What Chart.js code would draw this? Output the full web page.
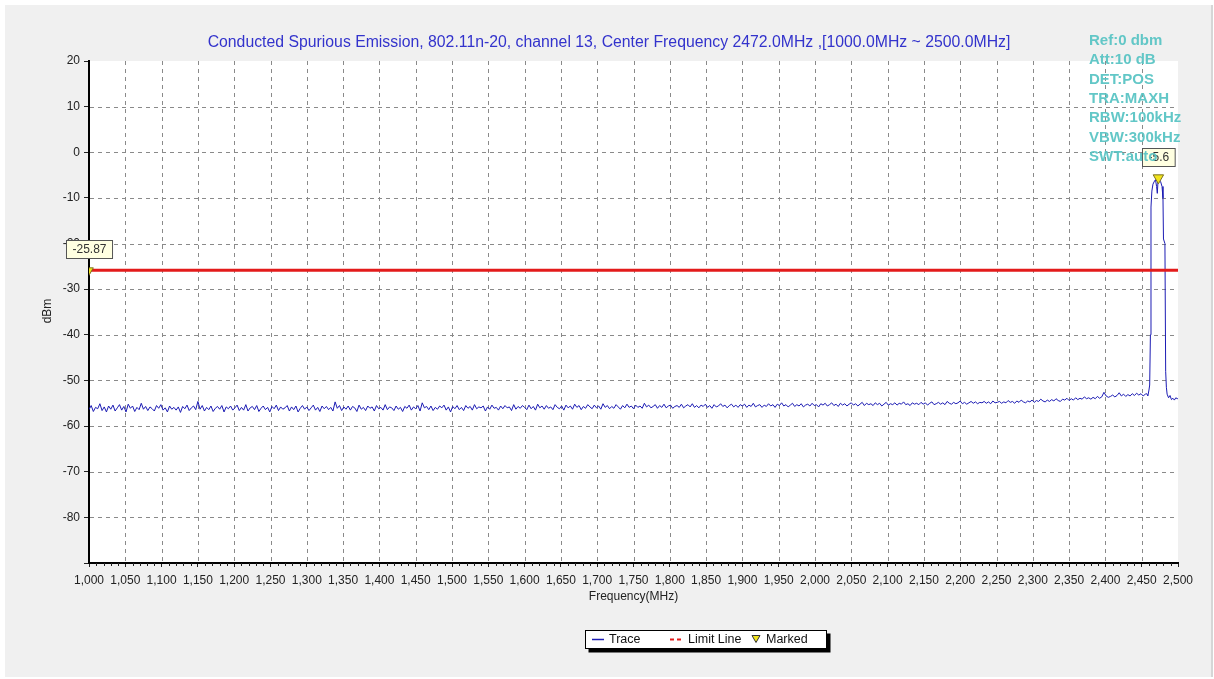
<!DOCTYPE html>
<html>
<head>
<meta charset="utf-8">
<script src="https://cdn.jsdelivr.net/npm/chart.js@4.4.1/dist/chart.umd.min.js"></script>
<style>
  html, body { margin: 0; padding: 0; background: #ffffff; }
  #wrap { width: 1214px; height: 679px; }
</style>
</head>
<body>
<div id="wrap"><canvas id="c" width="1214" height="679"></canvas></div>
<script>
// ---------------- DATA ----------------
const chartTitle = 'Conducted Spurious Emission, 802.11n-20, channel 13, Center Frequency 2472.0MHz ,[1000.0MHz ~ 2500.0MHz]';
const infoLines = ['Ref:0 dbm', 'Att:10 dB', 'DET:POS', 'TRA:MAXH', 'RBW:100kHz', 'VBW:300kHz', 'SWT:auto'];
const legendLabels = ['Trace', 'Limit Line', 'Marked'];

const xMin = 1000, xMax = 2500, xMajorStep = 50, xMinorStep = 10;
const yMin = -90, yMax = 20, yStep = 10;

// Noise floor trace, sampled every 3 MHz from 1000 MHz to 2455 MHz (dBm)
const noiseStartMHz = 1000, noiseStepMHz = 3;
const noiseValues = [
  -56.4,-55.5,-56.8,-55.9,-56.2,-55.1,-56.6,-55.8,-56.9,-55.6,
  -56.3,-55.4,-56.7,-56.0,-55.3,-56.5,-55.7,-56.9,-55.2,-56.1,
  -55.6,-56.8,-55.9,-56.4,-55.0,-56.3,-55.7,-56.6,-55.8,-56.2,
  -56.7,-55.5,-56.1,-55.3,-56.5,-56.0,-56.9,-55.6,-56.3,-55.9,
  -56.5,-55.8,-57.0,-55.7,-56.2,-55.4,-56.6,-56.0,-55.6,-56.4,
  -54.6,-56.3,-55.5,-56.7,-55.9,-56.4,-55.6,-56.8,-56.1,-55.7,
  -56.3,-55.5,-56.9,-55.8,-56.2,-55.6,-56.5,-56.0,-55.4,-56.6,
  -55.9,-56.5,-55.3,-56.7,-56.0,-55.7,-56.4,-55.5,-56.8,-56.1,
  -55.6,-56.4,-55.9,-56.9,-55.7,-56.2,-55.4,-56.6,-55.8,-56.3,
  -56.0,-55.5,-56.7,-55.8,-56.4,-55.6,-56.9,-56.1,-55.5,-56.3,
  -55.8,-56.6,-56.0,-55.4,-56.5,-55.9,-56.8,-55.6,-56.2,-55.7,
  -56.4,-55.9,-56.7,-54.7,-56.1,-55.5,-56.6,-55.8,-56.3,-55.6,
  -56.5,-55.7,-56.0,-56.8,-55.4,-56.3,-55.9,-56.6,-55.6,-56.1,
  -55.8,-56.7,-55.5,-56.2,-55.9,-56.5,-55.3,-56.4,-55.8,-56.0,
  -56.6,-55.6,-56.3,-55.9,-56.8,-55.7,-56.1,-55.4,-56.5,-55.8,
  -56.2,-55.5,-56.7,-54.9,-56.0,-55.7,-56.4,-55.6,-56.6,-55.9,
  -56.3,-55.6,-56.0,-55.4,-56.5,-55.8,-56.9,-55.7,-56.2,-55.5,
  -56.4,-55.9,-56.6,-55.5,-56.1,-55.7,-56.5,-55.3,-56.2,-55.8,
  -56.0,-55.6,-56.7,-55.8,-56.3,-55.4,-56.1,-55.9,-56.5,-55.6,
  -56.2,-55.5,-56.0,-55.8,-56.6,-55.3,-56.3,-55.7,-56.1,-55.5,
  -55.9,-56.4,-55.4,-56.2,-55.7,-56.5,-55.2,-56.0,-55.6,-56.3,
  -55.5,-56.1,-55.8,-56.4,-55.3,-55.9,-56.2,-55.6,-56.5,-55.4,
  -56.0,-55.6,-56.3,-55.2,-55.9,-55.5,-56.4,-55.7,-56.1,-55.3,
  -55.8,-56.2,-55.4,-56.0,-55.6,-56.3,-55.1,-55.9,-55.5,-56.2,
  -55.7,-56.1,-55.3,-55.8,-56.3,-55.5,-56.0,-55.2,-55.9,-55.6,
  -56.2,-55.4,-55.9,-55.6,-56.1,-55.0,-55.8,-55.4,-56.0,-55.7,
  -55.3,-56.1,-55.5,-55.9,-55.2,-56.0,-55.6,-55.4,-56.1,-55.7,
  -55.5,-55.9,-55.2,-56.0,-55.6,-55.3,-55.8,-55.1,-55.9,-55.5,
  -56.0,-55.4,-55.7,-55.2,-55.9,-55.5,-56.1,-55.3,-55.8,-55.6,
  -55.1,-55.7,-55.4,-56.0,-55.5,-55.2,-55.8,-55.4,-55.9,-55.3,
  -55.6,-55.2,-55.9,-55.4,-55.7,-55.0,-55.8,-55.5,-55.3,-55.9,
  -55.4,-55.7,-55.1,-55.6,-55.3,-55.9,-55.2,-55.5,-54.9,-55.6,
  -55.3,-55.8,-55.4,-55.0,-55.7,-55.3,-55.6,-55.1,-55.8,-55.4,
  -55.2,-55.6,-55.0,-55.5,-55.3,-55.8,-55.1,-55.4,-55.0,-55.6,
  -55.3,-54.9,-55.5,-55.2,-55.7,-55.0,-55.4,-55.1,-55.6,-55.2,
  -54.9,-55.4,-55.1,-55.6,-55.2,-54.8,-55.5,-55.0,-55.3,-55.1,
  -55.5,-54.9,-55.3,-55.0,-55.6,-55.2,-54.8,-55.4,-55.1,-55.3,
  -54.9,-55.4,-55.0,-55.2,-54.7,-55.3,-55.1,-55.5,-54.9,-55.2,
  -55.0,-55.3,-54.8,-55.2,-54.9,-55.4,-55.0,-54.7,-55.3,-55.1,
  -54.8,-55.2,-54.9,-55.3,-54.6,-55.0,-55.2,-54.8,-55.1,-54.9,
  -54.5,-55.1,-54.8,-55.2,-54.9,-54.6,-55.0,-54.7,-55.1,-54.8,
  -54.9,-54.6,-55.0,-54.7,-55.1,-54.5,-54.9,-54.8,-54.6,-55.0,
  -54.7,-54.9,-54.4,-54.8,-54.6,-55.0,-54.5,-54.8,-54.3,-54.7,
  -54.9,-54.5,-54.7,-54.3,-54.8,-54.4,-54.6,-54.1,-54.5,-54.7,
  -54.3,-54.6,-54.2,-54.5,-54.0,-54.4,-54.6,-54.1,-54.3,-53.9,
  -54.4,-54.0,-54.3,-53.8,-54.2,-53.9,-54.1,-53.6,-54.0,-53.8,
  -54.1,-53.7,-54.0,-53.5,-53.9,-53.6,-52.6,-53.4,-53.7,-53.5,
  -53.2,-53.6,-53.3,-52.7,-53.4,-53.0,-53.5,-53.1,-53.4,-52.9,
  -53.3,-52.8,-53.2,-52.9,-53.4,-53.0
];

// Carrier region, explicit frequencies (MHz) and levels (dBm)
const peakFreqs  = [2457, 2458.5, 2460, 2461, 2462, 2462.8, 2464, 2465.5, 2467, 2469, 2470.5, 2471.5, 2472.5, 2474, 2476, 2478, 2479.3, 2480, 2482, 2483, 2484, 2485, 2487, 2489, 2491, 2493, 2495, 2497, 2499, 2500];
const peakValues = [-52.9, -53.4, -52.1, -51.0, -40.0, -12.0, -8.5, -7.0, -6.5, -6.0, -7.5, -9.0, -6.2, -5.8, -6.4, -7.5, -10.0, -19.0, -20.0, -48.0, -51.5, -53.0, -53.8, -53.3, -54.2, -53.9, -54.3, -53.8, -54.0, -53.9];

const limitFreqs  = [1000, 2500];
const limitValues = [-25.87, -25.87];

const markerFreqs  = [1000, 2473];
const markerValues = [-25.87, -5.6];
const markerLabels = ['-25.87', '-5.6'];

// ---------------- BUILD ----------------
const traceData = noiseValues.map((v, i) => ({ x: noiseStartMHz + i * noiseStepMHz, y: v }))
  .concat(peakFreqs.map((f, i) => ({ x: f, y: peakValues[i] })));
const limitData = limitFreqs.map((f, i) => ({ x: f, y: limitValues[i] }));
const markerData = markerFreqs.map((f, i) => ({ x: f, y: markerValues[i] }));

const FONT = "'Liberation Sans', Arial, sans-serif";
const TRACE_COLOR = '#1c1cb4';
const LIMIT_COLOR = '#e31b1b';
const MARK_FILL = '#f2e41c';
const GRID_COLOR = '#8a8a8a';

Chart.defaults.font.family = FONT;
Chart.defaults.font.size = 12;
Chart.defaults.color = '#222';

const decor = {
  id: 'decor',
  beforeDraw(chart) {
    const ctx = chart.ctx, a = chart.chartArea;
    ctx.save();
    ctx.fillStyle = '#ffffff';
    ctx.fillRect(0, 0, chart.width, chart.height);
    ctx.fillStyle = '#f0f0f0';
    ctx.fillRect(5, 5, 1207, 672);
    ctx.fillStyle = '#d6d6d6';
    ctx.fillRect(1211, 5, 2, 672);
    ctx.fillStyle = '#ffffff';
    ctx.fillRect(a.left, a.top, a.right - a.left, a.bottom - a.top);
    ctx.restore();
  },
  beforeDatasetsDraw(chart) {
    const ctx = chart.ctx, a = chart.chartArea;
    const xs = chart.scales.x, ys = chart.scales.y;
    ctx.save();
    ctx.strokeStyle = GRID_COLOR;
    ctx.lineWidth = 1;
    ctx.setLineDash([4, 4]);
    for (let f = xMin + xMajorStep; f < xMax; f += xMajorStep) {
      const px = Math.round(xs.getPixelForValue(f)) + 0.5;
      ctx.beginPath(); ctx.moveTo(px, a.top); ctx.lineTo(px, a.bottom - 1); ctx.stroke();
    }
    for (let v = yMin + yStep; v < yMax; v += yStep) {
      const py = Math.round(ys.getPixelForValue(v)) + 0.5;
      ctx.beginPath(); ctx.moveTo(a.left + 1, py); ctx.lineTo(a.right, py); ctx.stroke();
    }
    ctx.setLineDash([]);
    // minor ticks below x axis
    ctx.strokeStyle = '#222';
    for (let f = xMin; f <= xMax; f += xMinorStep) {
      if ((f - xMin) % xMajorStep === 0) continue;
      const px = Math.round(xs.getPixelForValue(f)) + 0.5;
      ctx.beginPath(); ctx.moveTo(px, a.bottom); ctx.lineTo(px, a.bottom + 3); ctx.stroke();
    }
    ctx.restore();
  },
  afterDraw(chart) {
    const ctx = chart.ctx, a = chart.chartArea;
    const xs = chart.scales.x, ys = chart.scales.y;
    ctx.save();
    // marker value labels
    ctx.font = '12px ' + FONT;
    ctx.textBaseline = 'middle';
    ctx.textAlign = 'center';
    markerData.forEach((p, i) => {
      const px = xs.getPixelForValue(p.x), py = ys.getPixelForValue(p.y);
      const w = ctx.measureText(markerLabels[i]).width + 12, h = 18;
      const bx = Math.round(px - w / 2) + 0.5, by = Math.round(py - 12 - h) + 0.5;
      ctx.fillStyle = '#ffffe1';
      ctx.fillRect(bx, by, w, h);
      ctx.strokeStyle = '#555';
      ctx.lineWidth = 1;
      ctx.strokeRect(bx, by, w, h);
      ctx.fillStyle = '#333';
      ctx.fillText(markerLabels[i], bx + w / 2, by + h / 2 + 0.5);
    });
    // title
    ctx.font = '15.8px ' + FONT;
    ctx.fillStyle = '#3333cc';
    ctx.textAlign = 'center';
    ctx.fillText(chartTitle, 609, 43);
    // info lines
    ctx.font = 'bold 15px ' + FONT;
    ctx.fillStyle = 'rgba(90,196,196,0.95)';
    ctx.textAlign = 'left';
    infoLines.forEach((t, i) => ctx.fillText(t, 1089, 41 + i * 19.3));
    // axis titles
    ctx.font = '12px ' + FONT;
    ctx.fillStyle = '#222';
    ctx.textAlign = 'center';
    ctx.fillText('Frequency(MHz)', (a.left + a.right) / 2, 597);
    ctx.save();
    ctx.translate(48, 311);
    ctx.rotate(-Math.PI / 2);
    ctx.fillText('dBm', 0, 0);
    ctx.restore();
    // legend
    const lx = 585.5, ly = 630.5, lw = 241, lh = 18;
    ctx.fillStyle = '#000';
    ctx.fillRect(lx + 3, ly + 3, lw + 1, lh + 1);
    ctx.fillStyle = '#fff';
    ctx.fillRect(lx, ly, lw, lh);
    ctx.strokeStyle = '#000';
    ctx.lineWidth = 1;
    ctx.strokeRect(lx, ly, lw, lh);
    const cy = ly + lh / 2;
    ctx.strokeStyle = TRACE_COLOR; ctx.lineWidth = 1.5;
    ctx.beginPath(); ctx.moveTo(592, cy); ctx.lineTo(604, cy); ctx.stroke();
    ctx.strokeStyle = LIMIT_COLOR; ctx.lineWidth = 2;
    ctx.setLineDash([4, 3]);
    ctx.beginPath(); ctx.moveTo(670, cy); ctx.lineTo(684, cy); ctx.stroke();
    ctx.setLineDash([]);
    ctx.fillStyle = MARK_FILL; ctx.strokeStyle = '#333'; ctx.lineWidth = 1;
    ctx.beginPath(); ctx.moveTo(752, cy - 4); ctx.lineTo(760, cy - 4); ctx.lineTo(756, cy + 3); ctx.closePath();
    ctx.fill(); ctx.stroke();
    ctx.font = '12.5px ' + FONT;
    ctx.fillStyle = '#111';
    ctx.textAlign = 'left';
    ctx.fillText(legendLabels[0], 609, cy + 0.5);
    ctx.fillText(legendLabels[1], 688, cy + 0.5);
    ctx.fillText(legendLabels[2], 766, cy + 0.5);
    ctx.restore();
  }
};

new Chart(document.getElementById('c'), {
  type: 'line',
  data: {
    datasets: [
      { label: legendLabels[0], data: traceData, borderColor: TRACE_COLOR, borderWidth: 1, pointRadius: 0, tension: 0, order: 3 },
      { label: legendLabels[1], data: limitData, borderColor: LIMIT_COLOR, borderWidth: 3, pointRadius: 0, order: 2 },
      { label: legendLabels[2], type: 'scatter', data: markerData, pointStyle: 'triangle', rotation: 180,
        pointRadius: [5, 6], backgroundColor: MARK_FILL, borderColor: '#7a7020', borderWidth: 1, order: 1 }
    ]
  },
  options: {
    responsive: false,
    animation: false,
    devicePixelRatio: 1,
    layout: { padding: { left: 5, right: 36, top: 61, bottom: 0 } },
    plugins: { legend: { display: false }, title: { display: false }, tooltip: { enabled: false } },
    scales: {
      x: {
        type: 'linear', min: xMin, max: xMax,
        afterFit: s => { s.height = 116; },
        ticks: { stepSize: xMajorStep, autoSkip: false, maxRotation: 0, minRotation: 0, padding: 6,
          color: '#222', font: { size: 12 },
          callback: v => Number(v).toLocaleString('en-US') },
        grid: { drawOnChartArea: false, drawTicks: true, tickLength: 4, tickColor: '#222' },
        border: { display: true, color: '#000', width: 2 }
      },
      y: {
        type: 'linear', min: yMin, max: yMax,
        afterFit: s => { s.width = 84; },
        ticks: { stepSize: yStep, padding: 4, color: '#222', font: { size: 12 },
          callback: v => (v === yMin ? '' : String(v)) },
        grid: { drawOnChartArea: false, drawTicks: true, tickLength: 5, tickColor: '#222' },
        border: { display: true, color: '#000', width: 2 }
      }
    }
  },
  plugins: [decor]
});
</script>
</body>
</html>
